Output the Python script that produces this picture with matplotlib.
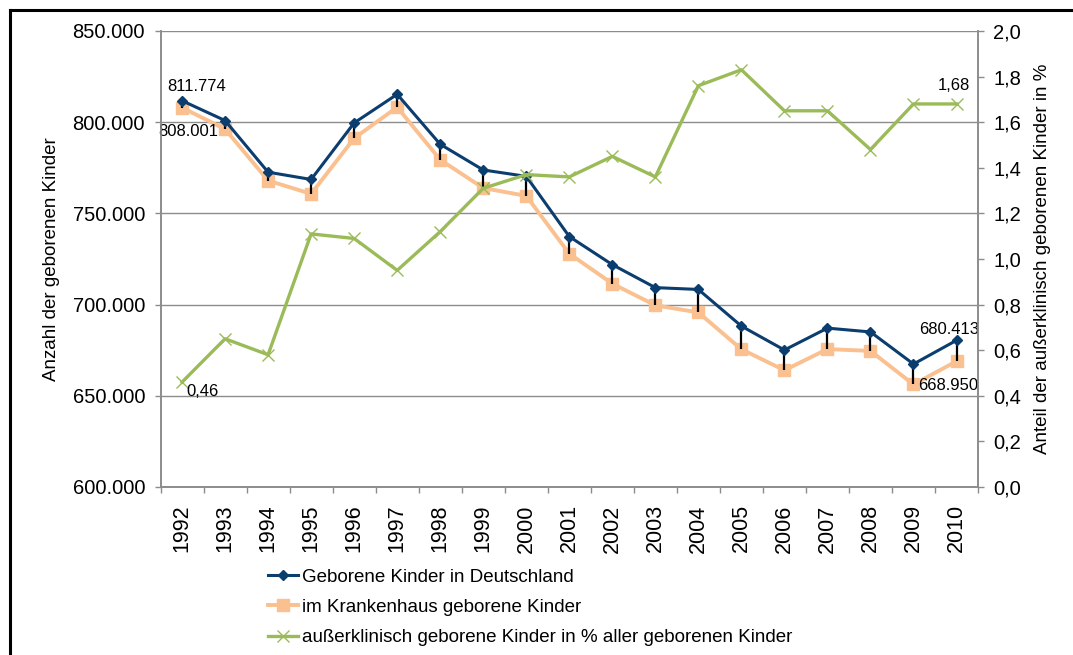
import matplotlib
matplotlib.use('Agg')
import matplotlib.pyplot as plt
from matplotlib.lines import Line2D
from matplotlib.ticker import FuncFormatter, MultipleLocator, FixedLocator

plt.rcParams['font.family'] = ['Liberation Sans', 'DejaVu Sans']

# DATA

years = [1992, 1993, 1994, 1995, 1996, 1997, 1998, 1999, 2000, 2001,
         2002, 2003, 2004, 2005, 2006, 2007, 2008, 2009, 2010]

geborene = [811774, 800900, 772600, 768600, 799600, 815300, 787900, 773800, 770300, 737300,
            721900, 709300, 708300, 688200, 675100, 687100, 685000, 667400, 680413]

krankenhaus = [808001, 796200, 768000, 760700, 791200, 808200, 779400, 763900, 759600, 727900,
               711500, 699600, 695700, 675500, 664000, 675600, 674600, 656200, 668950]

ausserklinisch = [0.46, 0.65, 0.58, 1.11, 1.09, 0.95, 1.12, 1.31, 1.37, 1.36,
                  1.45, 1.36, 1.76, 1.83, 1.65, 1.65, 1.48, 1.68, 1.68]

labels = ['Geborene Kinder in Deutschland',
          'im Krankenhaus geborene Kinder',
          'außerklinisch geborene Kinder in % aller geborenen Kinder']

BLUE = '#0b3d6f'
ORANGE = '#fac08f'
GREEN = '#9bbb59'
GRID = '#8c8c8c'

# FIGURE

fig = plt.figure(figsize=(10.73, 6.55), dpi=100)
ax = fig.add_axes([0.1496, 0.2565, 0.7619, 0.6962])
ax2 = ax.twinx()

x = list(range(len(years)))

ax.plot(x, krankenhaus, color=ORANGE, lw=2.8, marker='s', ms=8, mec=ORANGE, mfc=ORANGE, zorder=3)
ax.vlines(x, krankenhaus, geborene, color='black', lw=1.6, zorder=4)
ax.plot(x, geborene, color=BLUE, lw=2.2, marker='D', ms=5, mec=BLUE, mfc=BLUE, zorder=5)

ax2.plot(x, ausserklinisch, color=GREEN, lw=2.4, marker='x', ms=9, mew=1.0, zorder=3)

# AXES

ax.set_xlim(-0.5, len(years) - 0.5)
ax.set_ylim(600000, 850000)
ax2.set_ylim(0, 2.0)

ax.yaxis.set_major_locator(MultipleLocator(50000))
ax.yaxis.set_major_formatter(FuncFormatter(lambda v, p: f"{int(v):,}".replace(',', '.')))
ax2.yaxis.set_major_locator(MultipleLocator(0.2))
ax2.yaxis.set_major_formatter(FuncFormatter(lambda v, p: f"{v:.1f}".replace('.', ',')))

ax.set_xticks(x)
ax.set_xticklabels([str(y) for y in years], rotation=90, fontsize=15.5)
ax.xaxis.set_minor_locator(FixedLocator([i - 0.5 for i in range(len(years) + 1)]))
ax.tick_params(axis='x', which='major', length=0, pad=12.5)
ax.tick_params(axis='x', which='minor', length=4.2, color=GRID, width=1)

ax.tick_params(axis='y', length=4.3, color=GRID, width=1, labelsize=14.5, pad=6.8)
ax2.tick_params(axis='y', length=4.3, color=GRID, width=1, labelsize=14.5, pad=6.8)

ax.grid(axis='y', color=GRID, lw=1)
ax.set_axisbelow(True)

for a in (ax, ax2):
    a.spines['top'].set_visible(False)
    for s in ('left', 'right', 'bottom'):
        a.spines[s].set_color(GRID)
        a.spines[s].set_linewidth(1.2)

ax.set_ylabel('Anzahl der geborenen Kinder', fontsize=13.5, labelpad=9)
ax2.set_ylabel('Anteil der außerklinisch geborenen Kinder in %', fontsize=13.5, labelpad=9)

# DATA LABELS

def label(axis, i, val, txt, dx, dy):
    axis.annotate(txt, (x[i], val), xytext=(dx, dy), textcoords='offset pixels',
                  ha='center', va='center', fontsize=12, zorder=10)

label(ax, 0, geborene[0], '811.774', 15, 14)
label(ax, 0, krankenhaus[0], '808.001', 6, -24)
label(ax, 18, geborene[-1], '680.413', -7, 11)
label(ax, 18, krankenhaus[-1], '668.950', -8, -24)
label(ax2, 0, ausserklinisch[0], '0,46', 20, -9)
label(ax2, 18, ausserklinisch[-1], '1,68', -3, 18)

# LEGEND

handles = [Line2D([], [], color=BLUE, lw=2.2, marker='D', ms=5),
           Line2D([], [], color=ORANGE, lw=2.8, marker='s', ms=8),
           Line2D([], [], color=GREEN, lw=2.4, marker='x', ms=9, mew=1.0)]
ax2.legend(handles, labels, loc='upper left', bbox_to_anchor=(0.2498, 0.132),
           bbox_transform=fig.transFigure, frameon=False, fontsize=13.5,
           handlelength=1.6, handletextpad=0.2, labelspacing=0.7,
           borderpad=0, borderaxespad=0)

# FRAME (top and left edge of the screenshot border)

fig.add_artist(Line2D([9.5 / 1073, 9.5 / 1073], [0, 1 - 9.5 / 655], color='black', lw=2.2,
                      transform=fig.transFigure))
fig.add_artist(Line2D([9.5 / 1073, 1], [1 - 9.5 / 655, 1 - 9.5 / 655], color='black', lw=2.2,
                      transform=fig.transFigure))

fig.savefig('out.png', dpi=100)
